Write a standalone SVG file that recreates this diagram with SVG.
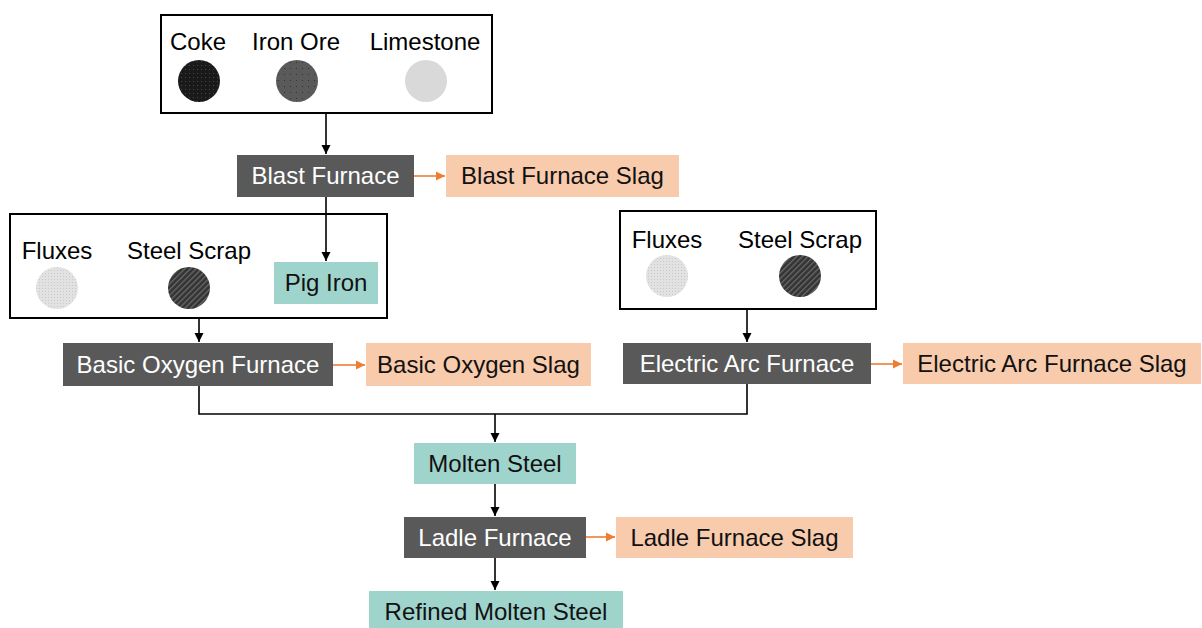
<svg xmlns="http://www.w3.org/2000/svg" width="1202" height="628" viewBox="0 0 1202 628">
<style>
text{font-family:"Liberation Sans",Arial,sans-serif;font-size:24px;text-anchor:middle}
.grp{fill:none;stroke:#000;stroke-width:2}
.proc{fill:#595959}
.proc-t{fill:#fff}
.prod{fill:#9fd4cc}
.slag{fill:#f8cbad}
.dark-t{fill:#111}
.blk{stroke:#000;stroke-width:1.6;fill:none}
.org{stroke:#ed7d31;stroke-width:1.6;fill:none}
</style>
<defs>
<marker id="ab" markerWidth="12" markerHeight="12" refX="10" refY="6" orient="auto" markerUnits="userSpaceOnUse"><path d="M1,1.5 L10,6 L1,10.5 Z" fill="#000"/></marker>
<marker id="ao" markerWidth="12" markerHeight="12" refX="10" refY="6" orient="auto" markerUnits="userSpaceOnUse"><path d="M1,1.5 L10,6 L1,10.5 Z" fill="#ed7d31"/></marker>
<pattern id="pCoke" width="4" height="4" patternUnits="userSpaceOnUse"><rect width="4" height="4" fill="#1a1a1a"/><rect x="1" y="1" width="1" height="1" fill="#444"/></pattern>
<pattern id="pOre" width="6" height="6" patternUnits="userSpaceOnUse"><rect width="6" height="6" fill="#5a5a5a"/><rect x="2" y="2" width="1" height="1" fill="#333"/></pattern>
<pattern id="pFlux" width="3" height="3" patternUnits="userSpaceOnUse"><rect width="3" height="3" fill="#e2e2e2"/><rect width="1" height="1" fill="#c8c8c8"/></pattern>
<pattern id="pScrap" width="4" height="4" patternUnits="userSpaceOnUse" patternTransform="rotate(45)"><rect width="4" height="4" fill="#333"/><rect width="1.3" height="4" fill="#6a6a6a"/></pattern>
</defs>

<g id="connectors">
<path class="blk" d="M326,113 V154" marker-end="url(#ab)"/>
<path class="org" d="M414,176 H445" marker-end="url(#ao)"/>
<path class="blk" d="M326,197 V261" marker-end="url(#ab)"/>
<path class="blk" d="M199,318 V342" marker-end="url(#ab)"/>
<path class="org" d="M333,365 H365" marker-end="url(#ao)"/>
<path class="blk" d="M747,309 V342" marker-end="url(#ab)"/>
<path class="org" d="M871,364 H902" marker-end="url(#ao)"/>
<path class="blk" d="M199,386 V414 H747 V384"/>
<path class="blk" d="M495,414 V442" marker-end="url(#ab)"/>
<path class="blk" d="M495,484 V516" marker-end="url(#ab)"/>
<path class="org" d="M586,537 H615" marker-end="url(#ao)"/>
<path class="blk" d="M495,558 V590" marker-end="url(#ab)"/>
</g>

<g id="raw-materials">
<rect class="grp" x="161" y="15" width="331" height="98"/>
<text x="198" y="50">Coke</text>
<text x="296" y="50">Iron Ore</text>
<text x="425" y="50">Limestone</text>
<circle cx="199" cy="81" r="21" fill="url(#pCoke)"/>
<circle cx="297" cy="81" r="21" fill="url(#pOre)"/>
<circle cx="426" cy="81" r="21" fill="#d9d9d9"/>
</g>

<g id="blast-furnace">
<rect class="proc" x="237" y="155" width="177" height="42"/>
<text class="proc-t" x="325.5" y="184">Blast Furnace</text>
</g>

<g id="blast-furnace-slag">
<rect class="slag" x="446" y="155" width="233" height="42"/>
<text class="dark-t" x="562.5" y="184">Blast Furnace Slag</text>
</g>

<g id="bof-inputs">
<rect class="grp" x="10" y="214" width="377" height="104"/>
<text x="57" y="259">Fluxes</text>
<text x="189" y="259">Steel Scrap</text>
<circle cx="57" cy="288" r="21" fill="url(#pFlux)"/>
<circle cx="189" cy="288" r="21" fill="url(#pScrap)"/>
</g>

<g id="pig-iron">
<rect class="prod" x="274" y="262" width="104" height="42"/>
<text class="dark-t" x="326" y="291">Pig Iron</text>
</g>

<g id="basic-oxygen-furnace">
<rect class="proc" x="63" y="343" width="270" height="43"/>
<text class="proc-t" x="198" y="373">Basic Oxygen Furnace</text>
</g>

<g id="basic-oxygen-slag">
<rect class="slag" x="366" y="343" width="225" height="43"/>
<text class="dark-t" x="478.5" y="373">Basic Oxygen Slag</text>
</g>

<g id="eaf-inputs">
<rect class="grp" x="620" y="211" width="256" height="98"/>
<text x="667" y="248">Fluxes</text>
<text x="800" y="248">Steel Scrap</text>
<circle cx="667" cy="276" r="21" fill="url(#pFlux)"/>
<circle cx="800" cy="276" r="21" fill="url(#pScrap)"/>
</g>

<g id="electric-arc-furnace">
<rect class="proc" x="623" y="343" width="248" height="41"/>
<text class="proc-t" x="747" y="372">Electric Arc Furnace</text>
</g>

<g id="electric-arc-furnace-slag">
<rect class="slag" x="903" y="343" width="298" height="41"/>
<text class="dark-t" x="1052" y="372">Electric Arc Furnace Slag</text>
</g>

<g id="molten-steel">
<rect class="prod" x="414" y="443" width="162" height="41"/>
<text class="dark-t" x="495" y="472">Molten Steel</text>
</g>

<g id="ladle-furnace">
<rect class="proc" x="404" y="517" width="182" height="41"/>
<text class="proc-t" x="495" y="546">Ladle Furnace</text>
</g>

<g id="ladle-furnace-slag">
<rect class="slag" x="616" y="517" width="237" height="41"/>
<text class="dark-t" x="734.5" y="546">Ladle Furnace Slag</text>
</g>

<g id="refined-molten-steel">
<rect class="prod" x="369" y="591" width="254" height="37"/>
<text class="dark-t" x="496" y="620">Refined Molten Steel</text>
</g>
</svg>
